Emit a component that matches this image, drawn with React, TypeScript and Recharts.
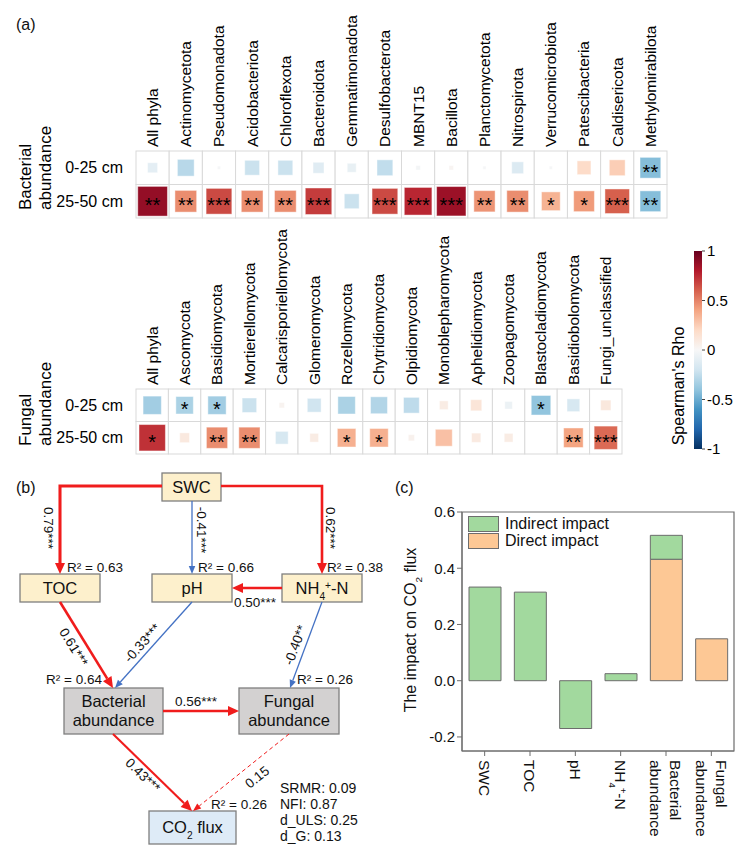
import React from "react";
import {
  ScatterChart,
  Scatter,
  BarChart,
  Bar,
  XAxis,
  YAxis,
  ReferenceArea,
  Legend,
} from "recharts";

const FONT = "'Liberation Sans', Arial, Helvetica, sans-serif";

// ---------- (a) Spearman heatmaps ----------
const DEPTHS = ["0-25 cm", "25-50 cm"];

const BAC_PHYLA = [
  "All phyla", "Actinomycetota", "Pseudomonadota", "Acidobacteriota", "Chloroflexota",
  "Bacteroidota", "Gemmatimonadota", "Desulfobacterota", "MBNT15", "Bacillota",
  "Planctomycetota", "Nitrospirota", "Verrucomicrobiota", "Patescibacteria",
  "Caldisericota", "Methylomirabilota",
];
const BAC_RHO_TOP = [-0.1, -0.28, -0.01, -0.22, -0.22, -0.12, -0.08, -0.25, -0.02, 0.02, -0.01, -0.14, -0.01, 0.19, 0.25, -0.43];
const BAC_SIG_TOP = ["", "", "", "", "", "", "", "", "", "", "", "", "", "", "", "**"];
const BAC_RHO_DEEP = [0.88, 0.47, 0.66, 0.47, 0.47, 0.7, -0.22, 0.66, 0.76, 0.86, 0.45, 0.47, 0.35, 0.43, 0.6, -0.43];
const BAC_SIG_DEEP = ["**", "**", "***", "**", "**", "***", "", "***", "***", "***", "**", "**", "*", "*", "***", "**"];

const FUN_PHYLA = [
  "All phyla", "Ascomycota", "Basidiomycota", "Mortierellomycota", "Calcarisporiellomycota",
  "Glomeromycota", "Rozellomycota", "Chytridiomycota", "Olpidiomycota", "Monoblepharomycota",
  "Aphelidiomycota", "Zoopagomycota", "Blastocladiomycota", "Basidiobolomycota", "Fungi_unclassified",
];
const FUN_RHO_TOP = [-0.35, -0.32, -0.35, -0.22, 0.03, -0.2, -0.32, -0.3, -0.26, 0.08, 0.13, -0.06, -0.4, -0.17, 0.11];
const FUN_SIG_TOP = ["", "*", "*", "", "", "", "", "", "", "", "", "", "*", "", ""];
const FUN_RHO_DEEP = [0.73, 0.1, 0.47, 0.47, -0.17, 0.08, 0.36, 0.36, 0.04, 0.3, 0.09, 0.08, 0, 0.4, 0.57];
const FUN_SIG_DEEP = ["*", "", "**", "**", "", "", "*", "*", "", "", "", "", "", "**", "***"];

const COLORBAR_RANGE = [-1, 1];
const COLORBAR_TICKS = [-1, -0.5, 0, 0.5, 1];

// RdBu diverging palette
const RDBU: [number, string][] = [
  [-1, "#053061"], [-0.8, "#2166ac"], [-0.6, "#4393c3"], [-0.4, "#92c5de"],
  [-0.2, "#d1e5f0"], [0, "#f7f7f7"], [0.2, "#fddbc7"], [0.4, "#f4a582"],
  [0.6, "#d6604d"], [0.8, "#b2182b"], [1, "#67001f"],
];

function hex2rgb(h: string) {
  return [1, 3, 5].map((i) => parseInt(h.slice(i, i + 2), 16));
}

function rdbu(v: number) {
  const t = Math.max(-1, Math.min(1, v));
  for (let i = 0; i < RDBU.length - 1; i++) {
    const [a, ca] = RDBU[i];
    const [b, cb] = RDBU[i + 1];
    if (t >= a && t <= b) {
      const f = (t - a) / (b - a);
      const A = hex2rgb(ca);
      const B = hex2rgb(cb);
      const c = A.map((x, k) => Math.round(x + (B[k] - x) * f));
      return `rgb(${c[0]},${c[1]},${c[2]})`;
    }
  }
  return RDBU[RDBU.length - 1][1];
}

// ---------- (b) PLS path model ----------
const PATH_NODES = [
  { id: "SWC", text: ["SWC"], kind: "driver" },
  { id: "TOC", text: ["TOC"], kind: "driver" },
  { id: "pH", text: ["pH"], kind: "driver" },
  { id: "NH4", text: ["NH_{4}^{+}-N"], kind: "driver" },
  { id: "BAC", text: ["Bacterial", "abundance"], kind: "microbe" },
  { id: "FUN", text: ["Fungal", "abundance"], kind: "microbe" },
  { id: "CO2", text: ["CO_{2} flux"], kind: "flux" },
];
const PATH_COEFS = [
  { from: "SWC", to: "TOC", coef: 0.79, sig: "***" },
  { from: "SWC", to: "pH", coef: -0.41, sig: "***" },
  { from: "SWC", to: "NH4", coef: 0.62, sig: "***" },
  { from: "NH4", to: "pH", coef: 0.5, sig: "***" },
  { from: "TOC", to: "BAC", coef: 0.61, sig: "***" },
  { from: "pH", to: "BAC", coef: -0.33, sig: "***" },
  { from: "NH4", to: "FUN", coef: -0.4, sig: "**" },
  { from: "BAC", to: "FUN", coef: 0.56, sig: "***" },
  { from: "BAC", to: "CO2", coef: 0.43, sig: "***" },
  { from: "FUN", to: "CO2", coef: 0.15, sig: "" },
];
const R_SQUARED: Record<string, number> = { TOC: 0.63, pH: 0.66, NH4: 0.38, BAC: 0.64, FUN: 0.26, CO2: 0.26 };
const FIT_NAMES = ["SRMR", "NFI", "d_ULS", "d_G"];
const FIT_VALUES = [0.09, 0.87, 0.25, 0.13];

// diagram layout (diagram units)
const DIAG_W = 385;
const DIAG_H = 389;
const NODE_LAYOUT: Record<string, { x: number; y: number; w: number; h: number }> = {
  SWC: { x: 191.5, y: 22, w: 59, h: 28 },
  TOC: { x: 60, y: 123, w: 80, h: 28 },
  pH: { x: 192, y: 123, w: 80, h: 28 },
  NH4: { x: 322, y: 123, w: 80, h: 28 },
  BAC: { x: 113.5, y: 246, w: 99, h: 46 },
  FUN: { x: 289, y: 246, w: 100, h: 46 },
  CO2: { x: 192.5, y: 362.5, w: 87, h: 33 },
};
const EDGE_ROUTES: Record<string, number[][]> = {
  "SWC-TOC": [[162, 21], [60, 21], [60, 109]],
  "SWC-pH": [[192, 36], [192, 109]],
  "SWC-NH4": [[221, 21], [322, 21], [322, 109]],
  "NH4-pH": [[282, 123], [232, 123]],
  "TOC-BAC": [[60, 137], [113, 223]],
  "pH-BAC": [[192, 137], [115, 223]],
  "NH4-FUN": [[322, 137], [290, 223]],
  "BAC-FUN": [[163, 246], [239, 246]],
  "BAC-CO2": [[113, 269], [192, 346]],
  "FUN-CO2": [[289, 269], [193, 346]],
};
const COEF_LABEL_AT: Record<string, number[]> = {
  "SWC-TOC": [49, 63],
  "SWC-pH": [202, 65],
  "SWC-NH4": [331, 63],
  "NH4-pH": [255, 137],
  "TOC-BAC": [74, 182],
  "pH-BAC": [142, 178],
  "NH4-FUN": [295, 180],
  "BAC-FUN": [196, 236],
  "BAC-CO2": [143, 310],
  "FUN-CO2": [257, 312],
};
const R2_LABEL_AT: Record<string, number[]> = {
  TOC: [67, 102], pH: [198, 102], NH4: [327, 102],
  BAC: [46, 214], FUN: [297, 214], CO2: [211, 339],
};
const FIT_AT = [280, 323];

const NODE_FILL: Record<string, string> = { driver: "#fdf0cc", microbe: "#d3d1d1", flux: "#deebf7" };
const RED = "#f01c1c";
const BLUE = "#4472c4";

// ---------- (c) direct / indirect effects ----------
const IMPACT_FACTORS = ["SWC", "TOC", "pH", "NH_{4}^{+}-N", "Bacterial abundance", "Fungal abundance"];
const INDIRECT_IMPACT = [0.333, 0.315, -0.17, 0.025, 0.085, 0];
const DIRECT_IMPACT = [0, 0, 0, 0, 0.432, 0.149];
const IMPACT_TICKS = [-0.2, 0, 0.2, 0.4, 0.6];
const INDIRECT_COLOR = "#a2d99e";
const DIRECT_COLOR = "#fdc895";
const EDGE = "#6d6d6d";

// text with _{sub} and ^{sup}
function rich(s: string, fs: number) {
  const parts = s.split(/(_\{[^}]*\}|\^\{[^}]*\})/).filter(Boolean);
  return parts.map((p, i) => {
    if (p.startsWith("_{"))
      return (
        <tspan key={i} fontSize={fs * 0.62} baselineShift="sub">
          {p.slice(2, -1)}
        </tspan>
      );
    if (p.startsWith("^{"))
      return (
        <tspan key={i} fontSize={fs * 0.62} baselineShift="super">
          {p.slice(2, -1)}
        </tspan>
      );
    return <tspan key={i}>{p}</tspan>;
  });
}

function PhylumTick({ x, y, payload, names }: any) {
  return (
    <text
      transform={`translate(${x},${y}) rotate(-90)`}
      dy="0.35em"
      textAnchor="start"
      fontSize={15.5}
      fill="#000"
    >
      {names[payload.value]}
    </text>
  );
}

function Heatmap({ phyla, rho, sig, group, top, width, height, plotTop, right, bottom }: any) {
  const ML = 56;
  const YW = 80;
  const MT = 5;
  const plotW = width - ML - YW - right;
  const plotH = height - plotTop - bottom;
  const cellW = plotW / phyla.length;
  const cellH = plotH / DEPTHS.length;
  const data = DEPTHS.flatMap((_, r) =>
    phyla.map((_p: string, i: number) => ({ x: i, y: r, rho: rho[r][i], sig: sig[r][i] })),
  );
  const groupY = plotTop + plotH - 8;

  const cell = (p: any) => {
    const { cx, cy, payload } = p;
    const side = (Math.min(cellW, cellH) - 1.5) * Math.sqrt(Math.abs(payload.rho));
    return (
      <g>
        <rect x={cx - cellW / 2} y={cy - cellH / 2} width={cellW} height={cellH} fill="#fff" stroke="#d9d9d9" strokeWidth={1} />
        {side > 0.5 && (
          <rect
            x={cx - side / 2}
            y={cy - side / 2}
            width={side}
            height={side}
            fill={rdbu(payload.rho)}
            stroke="#fff"
            strokeOpacity={0.45}
            strokeWidth={1}
          />
        )}
        {payload.sig && (
          <text x={cx} y={cy + 11} textAnchor="middle" fontSize={20} fill="#000">
            {payload.sig}
          </text>
        )}
      </g>
    );
  };

  return (
    <div style={{ position: "absolute", left: 0, top }}>
      <ScatterChart width={width} height={height} margin={{ top: MT, right, bottom, left: ML }}>
        <XAxis
          type="number"
          dataKey="x"
          orientation="top"
          domain={[-0.5, phyla.length - 0.5]}
          ticks={phyla.map((_p: string, i: number) => i)}
          interval={0}
          height={plotTop - MT}
          tickSize={0}
          tickMargin={4}
          axisLine={false}
          tickLine={false}
          tick={(t: any) => <PhylumTick {...t} names={phyla} />}
        />
        <YAxis
          type="number"
          dataKey="y"
          domain={[-0.5, DEPTHS.length - 0.5]}
          reversed
          ticks={DEPTHS.map((_, i) => i)}
          width={YW}
          tickSize={0}
          tickMargin={13}
          axisLine={false}
          tickLine={false}
          tickFormatter={(v: number) => DEPTHS[v]}
          tick={{ fontSize: 16, fill: "#000" }}
        />
        <Scatter data={data} shape={cell} isAnimationActive={false} />
        {group.map((g: string, i: number) => (
          <text
            key={g}
            transform={`translate(${25 + 20 * i},${groupY}) rotate(-90)`}
            dy="0.35em"
            fontSize={17}
            fill="#000"
          >
            {g}
          </text>
        ))}
      </ScatterChart>
    </div>
  );
}

function ColorBar() {
  const data = [{ name: "rho", range: COLORBAR_RANGE }];
  // stops from the top (+1) down to the bottom (-1), offsets increasing
  const stops = [...RDBU].reverse();
  return (
    <div style={{ position: "absolute", left: 660, top: 240 }}>
      <BarChart width={95} height={220} data={data} margin={{ top: 11, right: 8, bottom: 11, left: 34 }} barCategoryGap={0}>
        <defs>
          <linearGradient id="rdbuBar" x1="0" y1="0" x2="0" y2="1">
            {stops.map(([v, c]) => (
              <stop key={v} offset={`${((1 - v) / 2) * 100}%`} stopColor={c} />
            ))}
          </linearGradient>
        </defs>
        <XAxis dataKey="name" hide />
        <YAxis
          orientation="right"
          domain={COLORBAR_RANGE}
          ticks={COLORBAR_TICKS}
          width={45}
          tickSize={3}
          tickMargin={2}
          axisLine={false}
          stroke="#444"
          tick={{ fontSize: 15, fill: "#000" }}
          tickFormatter={(v: number) => String(v)}
        />
        <Bar dataKey="range" fill="url(#rdbuBar)" isAnimationActive={false} />
        <text transform="translate(18,146) rotate(-90)" textAnchor="middle" dy="0.35em" fontSize={16} fill="#000">
          Spearman's Rho
        </text>
      </BarChart>
    </div>
  );
}

function PathDiagram() {
  const nodeData = PATH_NODES.map((n) => ({ ...n, ...NODE_LAYOUT[n.id] }));

  const edges = PATH_COEFS.map((e) => {
    const key = `${e.from}-${e.to}`;
    const route = EDGE_ROUTES[key];
    const [px, py] = route[route.length - 2];
    const [tx, ty] = route[route.length - 1];
    const ang = Math.atan2(ty - py, tx - px);
    const strong = e.coef > 0 && e.sig !== "";
    const L = strong ? 11 : 8;
    const W = strong ? 10 : 6.5;
    const pts = route.map(([x, y], i) =>
      i === route.length - 1
        ? { x: x - L * Math.cos(ang), y: y - L * Math.sin(ang), head: true }
        : { x, y, head: false },
    );
    let deg = (ang * 180) / Math.PI;
    if (deg > 91) deg -= 180;
    if (deg < -91) deg += 180;
    return {
      ...e,
      key,
      pts,
      ang,
      L,
      W,
      deg,
      color: e.coef > 0 ? RED : BLUE,
      width: e.coef > 0 ? (e.sig ? 1 + 2.6 * e.coef : 1) : 1.3,
      dash: e.sig ? undefined : "4 3",
    };
  });

  const labelData = edges.map((e) => ({
    x: COEF_LABEL_AT[e.key][0],
    y: COEF_LABEL_AT[e.key][1],
    text: `${e.coef.toFixed(2)}${e.sig}`,
    deg: e.deg,
  }));

  const r2Data = Object.keys(R_SQUARED).map((k) => ({
    x: R2_LABEL_AT[k][0],
    y: R2_LABEL_AT[k][1],
    text: `R² = ${R_SQUARED[k].toFixed(2)}`,
  }));

  const fitData = FIT_NAMES.map((n, i) => ({
    x: FIT_AT[0],
    y: FIT_AT[1] + i * 16,
    text: `${n}: ${FIT_VALUES[i].toFixed(2)}`,
  }));

  const nodeShape = (p: any) => {
    const { cx, cy, payload } = p;
    const fs = 16.5;
    const n = payload.text.length;
    return (
      <g>
        <rect
          x={cx - payload.w / 2}
          y={cy - payload.h / 2}
          width={payload.w}
          height={payload.h}
          fill={NODE_FILL[payload.kind]}
          stroke="#7f7f7f"
          strokeWidth={1.3}
        />
        {payload.text.map((t: string, i: number) => (
          <text
            key={i}
            x={cx}
            y={cy + (i - (n - 1) / 2) * 19}
            dy="0.36em"
            textAnchor="middle"
            fontSize={fs}
            fill="#111"
          >
            {rich(t, fs)}
          </text>
        ))}
      </g>
    );
  };

  const textShape = (anchor: string, fs: number) => (p: any) => {
    const { cx, cy, payload } = p;
    return (
      <text
        transform={`translate(${cx},${cy}) rotate(${payload.deg || 0})`}
        dy="0.36em"
        textAnchor={anchor}
        fontSize={fs}
        fill="#111"
      >
        {payload.text}
      </text>
    );
  };

  return (
    <div style={{ position: "absolute", left: 0, top: 465 }}>
      <ScatterChart width={DIAG_W} height={DIAG_H} margin={{ top: 0, right: 0, bottom: 0, left: 0 }}>
        <XAxis type="number" dataKey="x" domain={[0, DIAG_W]} hide />
        <YAxis type="number" dataKey="y" domain={[0, DIAG_H]} reversed hide />
        <Scatter data={nodeData} shape={nodeShape} isAnimationActive={false} />
        {edges.map((e) => (
          <Scatter
            key={e.key}
            data={e.pts}
            fill={e.color}
            line={{ stroke: e.color, strokeWidth: e.width, strokeDasharray: e.dash }}
            isAnimationActive={false}
            shape={(p: any) => {
              if (!p.payload.head) return <g />;
              const a = (e.ang * 180) / Math.PI;
              return (
                <polygon
                  transform={`translate(${p.cx},${p.cy}) rotate(${a})`}
                  points={`${e.L},0 0,${-e.W / 2} 0,${e.W / 2}`}
                  fill={e.color}
                />
              );
            }}
          />
        ))}
        <Scatter data={labelData} shape={textShape("middle", 13.5)} isAnimationActive={false} />
        <Scatter data={r2Data} shape={textShape("start", 13.5)} isAnimationActive={false} />
        <Scatter data={fitData} shape={textShape("start", 14)} isAnimationActive={false} />
      </ScatterChart>
    </div>
  );
}

function ImpactTick({ x, y, payload }: any) {
  const name: string = payload.value;
  const lines = name.includes(" abundance") ? name.split(" ") : [name];
  const fs = 15.5;
  return (
    <g transform={`translate(${x},${y}) rotate(90)`}>
      {lines.map((l, i) => (
        <text key={i} x={0} y={(i - (lines.length - 1) / 2) * 20} dy="0.36em" textAnchor="start" fontSize={fs} fill="#111">
          {rich(l, fs)}
        </text>
      ))}
    </g>
  );
}

function ImpactLegend() {
  const items = [
    { label: "Indirect impact", color: INDIRECT_COLOR },
    { label: "Direct impact", color: DIRECT_COLOR },
  ];
  return (
    <div style={{ fontFamily: FONT }}>
      {items.map((it) => (
        <div key={it.label} style={{ display: "flex", alignItems: "center", height: 17 }}>
          <span
            style={{
              display: "inline-block",
              width: 29,
              height: 14,
              background: it.color,
              border: `1px solid ${EDGE}`,
              marginRight: 6,
            }}
          />
          <span style={{ fontSize: 16, color: "#111" }}>{it.label}</span>
        </div>
      ))}
    </div>
  );
}

function ImpactChart() {
  const data = IMPACT_FACTORS.map((f, i) => ({
    name: f,
    direct: DIRECT_IMPACT[i],
    indirect: INDIRECT_IMPACT[i],
  }));
  const fs = 16;
  return (
    <div style={{ position: "absolute", left: 380, top: 490 }}>
      <BarChart
        width={375}
        height={364}
        data={data}
        margin={{ top: 22, right: 21, bottom: 3, left: 32 }}
        stackOffset="sign"
        barSize={32}
      >
        <XAxis
          dataKey="name"
          interval={0}
          height={100}
          tickSize={5}
          tickMargin={4}
          stroke={EDGE}
          tick={ImpactTick}
        />
        <YAxis
          domain={[-0.25, 0.6]}
          ticks={IMPACT_TICKS}
          width={50}
          tickSize={5}
          tickMargin={2}
          stroke={EDGE}
          allowDataOverflow
          tickFormatter={(v: number) => v.toFixed(1)}
          tick={{ fontSize: 15, fill: "#111" }}
        />
        <ReferenceArea y1={-0.25} y2={0.6} fill="none" stroke={EDGE} strokeWidth={1.2} ifOverflow="visible" />
        <Bar dataKey="direct" stackId="s" fill={DIRECT_COLOR} stroke={EDGE} strokeWidth={1} isAnimationActive={false} />
        <Bar dataKey="indirect" stackId="s" fill={INDIRECT_COLOR} stroke={EDGE} strokeWidth={1} isAnimationActive={false} />
        <Legend
          layout="vertical"
          align="center"
          verticalAlign="middle"
          content={() => <ImpactLegend />}
          wrapperStyle={{ left: 88, top: 25, width: 200, height: 36 }}
        />
        <text transform="translate(30,140) rotate(-90)" textAnchor="middle" dy="0.36em" fontSize={fs} fill="#111">
          {rich("The impact on CO_{2} flux", fs)}
        </text>
      </BarChart>
    </div>
  );
}

function PanelTag({ x, y, t }: { x: number; y: number; t: string }) {
  return (
    <div style={{ position: "absolute", left: x, top: y - 9, fontSize: 16, lineHeight: "18px", color: "#111" }}>
      {t}
    </div>
  );
}

export default function App() {
  return (
    <div
      style={{
        position: "absolute",
        left: 0,
        top: 0,
        width: 755,
        height: 854,
        background: "#fff",
        fontFamily: FONT,
        overflow: "hidden",
      }}
    >
      <Heatmap
        phyla={BAC_PHYLA}
        rho={[BAC_RHO_TOP, BAC_RHO_DEEP]}
        sig={[BAC_SIG_TOP, BAC_SIG_DEEP]}
        group={["Bacterial", "abundance"]}
        top={0}
        width={700}
        height={225}
        plotTop={151}
        right={33}
        bottom={7}
      />
      <Heatmap
        phyla={FUN_PHYLA}
        rho={[FUN_RHO_TOP, FUN_RHO_DEEP]}
        sig={[FUN_SIG_TOP, FUN_SIG_DEEP]}
        group={["Fungal", "abundance"]}
        top={225}
        width={660}
        height={235}
        plotTop={164}
        right={38}
        bottom={6}
      />
      <ColorBar />
      <PathDiagram />
      <ImpactChart />
      <PanelTag x={16} y={25} t="(a)" />
      <PanelTag x={16} y={488} t="(b)" />
      <PanelTag x={395} y={488} t="(c)" />
    </div>
  );
}
